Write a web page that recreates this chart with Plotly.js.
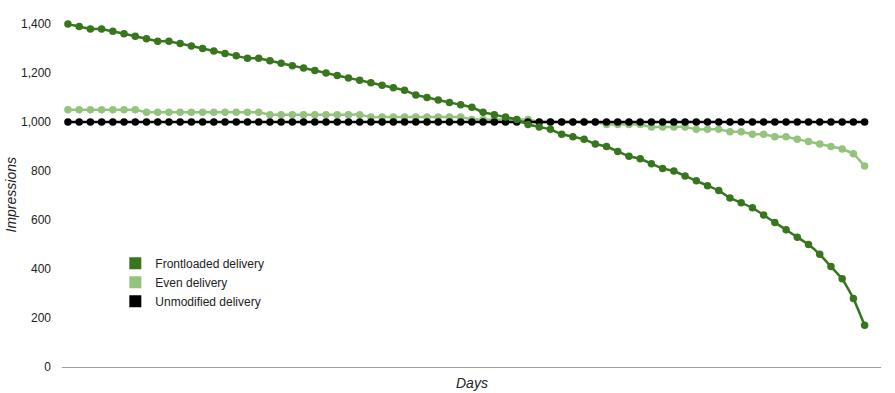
<!DOCTYPE html>
<html>
<head>
<meta charset="utf-8">
<script src="https://cdn.plot.ly/plotly-3.0.1.min.js"></script>
<style>
  html, body { margin: 0; padding: 0; background: #fff; }
  #chart { width: 895px; height: 393px; }
</style>
</head>
<body>
<div id="chart"></div>
<script>
// Data (72 days)
const days = Array.from({length: 72}, (_, i) => i + 1);

const frontloaded = [
  1400, 1390, 1380, 1380, 1370, 1360, 1350, 1340, 1330, 1330,
  1320, 1310, 1300, 1290, 1280, 1270, 1260, 1260, 1250, 1240,
  1230, 1220, 1210, 1200, 1190, 1180, 1170, 1160, 1150, 1140,
  1130, 1110, 1100, 1090, 1080, 1070, 1060, 1040, 1030, 1020,
  1010, 990, 980, 970, 950, 940, 930, 910, 900, 880,
  860, 850, 830, 810, 800, 780, 760, 740, 720, 690,
  670, 650, 620, 590, 560, 530, 500, 460, 410, 360,
  280, 170
];

const even = [
  1050, 1050, 1050, 1050, 1050, 1050, 1050,
  1040, 1040, 1040, 1040, 1040, 1040, 1040, 1040, 1040, 1040, 1040,
  1030, 1030, 1030, 1030, 1030, 1030, 1030, 1030, 1030,
  1020, 1020, 1020, 1020, 1020, 1020, 1020, 1020, 1020,
  1010, 1010, 1010, 1010, 1010, 1010,
  1000, 1000, 1000, 1000, 1000, 1000,
  990, 990, 990, 990,
  980, 980, 980, 980,
  970, 970, 970,
  960, 960,
  950, 950,
  940, 940,
  930, 920, 910, 900, 890, 870, 820
];

const unmodified = [
  1000, 1000, 1000, 1000, 1000, 1000, 1000, 1000, 1000, 1000,
  1000, 1000, 1000, 1000, 1000, 1000, 1000, 1000, 1000, 1000,
  1000, 1000, 1000, 1000, 1000, 1000, 1000, 1000, 1000, 1000,
  1000, 1000, 1000, 1000, 1000, 1000, 1000, 1000, 1000, 1000,
  1000, 1000, 1000, 1000, 1000, 1000, 1000, 1000, 1000, 1000,
  1000, 1000, 1000, 1000, 1000, 1000, 1000, 1000, 1000, 1000,
  1000, 1000, 1000, 1000, 1000, 1000, 1000, 1000, 1000, 1000,
  1000, 1000
];

const seriesNames = ['Frontloaded delivery', 'Even delivery', 'Unmodified delivery'];
const seriesColors = ['#38761d', '#93c47d', '#000000'];
const yTicks = [0, 200, 400, 600, 800, 1000, 1200, 1400];

const seriesData = [frontloaded, even, unmodified];

const FONT = 'Arial, "Liberation Sans", sans-serif';

// Draw order: even at the back, unmodified over it, frontloaded on top
const drawOrder = [1, 2, 0];
const traces = [];
drawOrder.forEach(i => {
  traces.push({
    type: 'scatter',
    mode: 'lines+markers',
    x: days,
    y: seriesData[i],
    name: seriesNames[i],
    showlegend: false,
    cliponaxis: false,
    line: {color: seriesColors[i], width: 2.5, shape: 'spline', smoothing: 0.3},
    marker: {color: seriesColors[i], size: 7.5},
    hoverinfo: 'x+y+name'
  });
});
// legend entries (square swatches)
seriesNames.forEach((n, i) => {
  traces.push({
    type: 'scatter',
    mode: 'markers',
    x: [null],
    y: [null],
    name: n,
    showlegend: true,
    marker: {color: seriesColors[i], symbol: 'square', size: 12}
  });
});

const layout = {
  width: 895,
  height: 393,
  margin: {l: 62, r: 13.5, t: 24, b: 25.5, pad: 0},
  paper_bgcolor: '#ffffff',
  plot_bgcolor: '#ffffff',
  font: {family: FONT, size: 12, color: '#222222'},
  showlegend: true,
  legend: {
    x: 0.0651, y: 0.3446, xanchor: 'left', yanchor: 'top',
    bgcolor: 'rgba(0,0,0,0)', borderwidth: 0,
    font: {family: FONT, size: 12, color: '#222222'},
    itemwidth: 30,
    traceorder: 'normal'
  },
  xaxis: {
    range: [0.47, 73.46],
    showticklabels: false,
    ticks: '',
    showgrid: false,
    zeroline: false,
    showline: true,
    linecolor: '#9e9e9e',
    linewidth: 1,
    fixedrange: true
  },
  yaxis: {
    range: [0, 1400],
    tickvals: yTicks,
    tickformat: ',d',
    ticks: '',
    ticklabelstandoff: 10,
    showgrid: false,
    zeroline: false,
    showline: false,
    tickfont: {family: FONT, size: 12, color: '#222222'},
    fixedrange: true
  },
  annotations: [
    {
      text: 'Days', xref: 'paper', yref: 'paper', x: 0.5, y: 0,
      yshift: -16, xanchor: 'center', yanchor: 'middle', showarrow: false,
      font: {family: FONT, size: 14, color: '#222222', style: 'italic'}
    },
    {
      text: 'Impressions', xref: 'paper', yref: 'paper', x: 0, y: 0.5,
      xshift: -52, textangle: -90, xanchor: 'center', yanchor: 'middle', showarrow: false,
      font: {family: FONT, size: 14, color: '#222222', style: 'italic'}
    }
  ]
};

Plotly.newPlot('chart', traces, layout, {displayModeBar: false, staticPlot: true});
</script>
</body>
</html>
